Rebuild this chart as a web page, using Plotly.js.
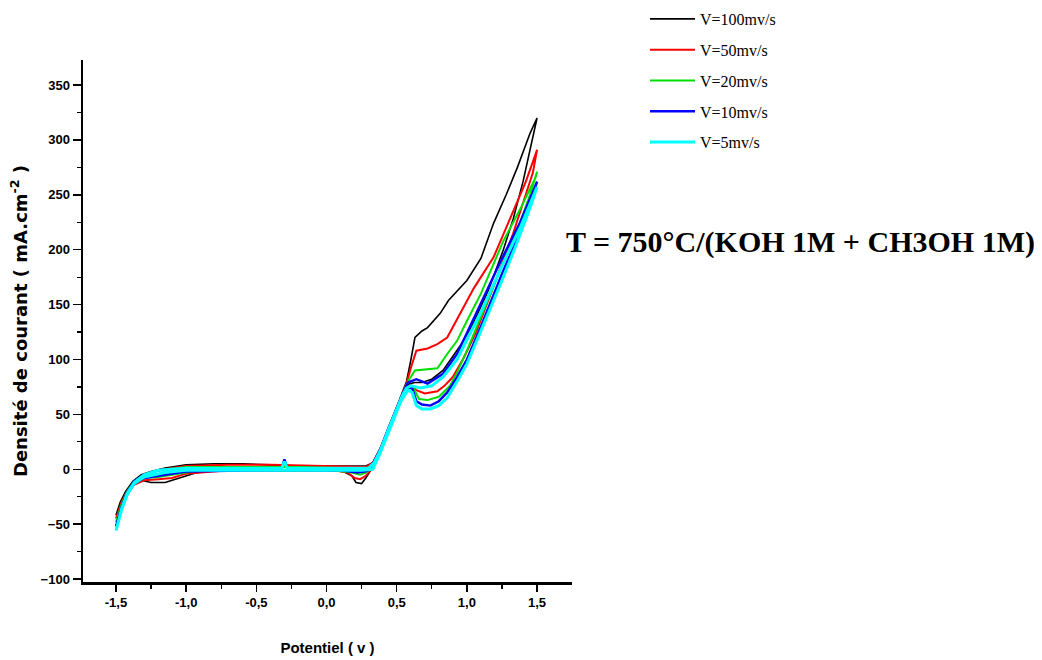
<!DOCTYPE html>
<html>
<head>
<meta charset="utf-8">
<script src="https://cdn.plot.ly/plotly-3.0.1.min.js"></script>
<style>html,body{margin:0;padding:0;background:#fff;}#chart{width:1042px;height:660px;}</style>
</head>
<body>
<div id="chart"></div>
<script>
// Series names
const seriesNames = ["V=100mv/s", "V=50mv/s", "V=20mv/s", "V=10mv/s", "V=5mv/s"];

// V = 100 mV/s (potential V, current density mA/cm2), forward then reverse scan
const v100 = [-1.5,-1.47,-1.43,-1.38,-1.32,-1.25,-1.15,-1.0,-0.8,-0.6,-0.4,-0.2,0.0,0.15,0.28,0.33,0.38,0.43,0.48,0.53,0.57,0.6,0.63,0.68,0.72,0.81,0.87,1.0,1.1,1.19,1.28,1.36,1.45,1.5,
              1.47,1.4,1.33,1.26,1.15,1.03,0.95,0.88,0.83,0.75,0.68,0.63,0.59,0.55,0.5,0.45,0.4,0.35,0.31,0.28,0.25,0.21,0.18,0.12,0.0,-0.3,-0.6,-0.9,-1.05,-1.15,-1.25,-1.32,-1.38,-1.43,-1.47,-1.5];
const j100 = [-42,-30,-20,-11,-5,-2,1,4,5,5,4,3,3,3,3,6,18,33,50,66,80,99,120,126,129,142,154,172,192,224,250,275,306,320,
              303,262,228,200,162,129,112,99,90,82,79,79,78,70,55,38,22,8,-2,-8,-13,-12,-6,-2,-1,-1,-1,-2,-8,-12,-12,-10,-15,-24,-33,-42];

// V = 50 mV/s
const v50 = [-1.5,-1.46,-1.42,-1.37,-1.3,-1.2,-1.0,-0.7,-0.4,-0.1,0.15,0.28,0.33,0.38,0.43,0.48,0.53,0.57,0.6,0.64,0.72,0.79,0.86,0.95,1.05,1.19,1.33,1.42,1.47,1.5,
             1.47,1.4,1.33,1.2,1.07,0.98,0.9,0.84,0.79,0.7,0.64,0.6,0.57,0.52,0.47,0.42,0.37,0.32,0.28,0.24,0.2,0.15,0.05,-0.3,-0.7,-1.0,-1.1,-1.2,-1.3,-1.37,-1.42,-1.46,-1.5];
const j50 = [-45,-30,-20,-11,-5,-1,3,4,4,3,2,2,6,18,34,50,66,78,92,108,110,114,120,142,165,193,235,262,280,291,
             270,243,215,170,126,102,84,76,71,69,72,77,74,62,46,30,14,0,-6,-9,-8,-3,-1,-1,-1,-4,-8,-9,-10,-14,-22,-32,-45];

// V = 20 mV/s
const v20 = [-1.5,-1.46,-1.42,-1.37,-1.3,-1.2,-1.0,-0.6,-0.2,0.15,0.3,0.34,0.39,0.44,0.49,0.54,0.58,0.63,0.7,0.79,0.86,0.93,1.0,1.1,1.26,1.38,1.49,1.5,
             1.45,1.35,1.25,1.1,1.0,0.93,0.88,0.8,0.72,0.66,0.61,0.58,0.53,0.48,0.43,0.38,0.33,0.28,0.24,0.18,0.05,-0.4,-0.9,-1.1,-1.2,-1.3,-1.37,-1.42,-1.46,-1.5];
const j20 = [-48,-32,-20,-11,-5,-1,2,2,2,1,1,7,20,36,52,68,80,90,91,92,105,117,135,160,208,237,266,271,
             250,215,185,138,108,88,76,66,63,64,76,75,64,48,32,16,2,-3,-5,-3,-1,-1,-1,-5,-7,-8,-13,-22,-33,-48];

// V = 10 mV/s
const v10 = [-1.5,-1.46,-1.42,-1.37,-1.3,-1.2,-1.0,-0.6,-0.32,-0.3,-0.28,0.0,0.3,0.34,0.39,0.44,0.49,0.54,0.58,0.64,0.72,0.83,0.93,1.0,1.1,1.25,1.38,1.5,
             1.45,1.35,1.25,1.1,1.0,0.93,0.86,0.8,0.74,0.68,0.64,0.61,0.58,0.53,0.48,0.43,0.38,0.33,0.28,0.22,0.1,-0.5,-1.0,-1.15,-1.3,-1.37,-1.42,-1.46,-1.5];
const j10 = [-52,-34,-21,-11,-5,-1,1,1,1,9,1,1,1,7,20,37,53,68,79,82,78,87,105,124,150,192,225,262,
             242,208,178,130,100,84,70,62,58,59,62,74,74,63,47,31,15,1,-2,-3,-1,-1,-2,-5,-8,-13,-23,-35,-52];

// V = 5 mV/s
const v5 = [-1.5,-1.46,-1.42,-1.37,-1.3,-1.2,-1.0,-0.6,-0.32,-0.3,-0.28,0.0,0.3,0.34,0.39,0.44,0.49,0.54,0.57,0.6,0.67,0.75,0.83,0.93,1.0,1.1,1.25,1.38,1.5,
            1.45,1.35,1.25,1.1,1.0,0.93,0.86,0.8,0.74,0.68,0.64,0.61,0.58,0.53,0.48,0.43,0.38,0.33,0.25,0.1,-0.5,-1.0,-1.15,-1.3,-1.37,-1.42,-1.46,-1.5];
const j5 = [-56,-36,-22,-12,-5,-1,1,1,1,7,1,1,1,6,19,36,52,67,74,76,74,76,84,100,118,143,185,220,257,
            238,204,172,126,96,80,65,58,55,55,58,70,72,62,46,30,14,0,-1,-1,-1,-1,-3,-7,-13,-23,-37,-56];

// Axis tick labels
const xTickVals = [-1.5, -1.0, -0.5, 0.0, 0.5, 1.0, 1.5];
const xTickText = ["-1,5", "-1,0", "-0,5", "0,0", "0,5", "1,0", "1,5"];
const yTickVals = [-100, -50, 0, 50, 100, 150, 200, 250, 300, 350];

const xs = [v100, v50, v20, v10, v5];
const ys = [j100, j50, j20, j10, j5];
const colors = ["#000000", "#ff0000", "#00e000", "#0000ff", "#00ffff"];
const widths = [1.6, 2, 2, 2.4, 3];

const traces = seriesNames.map((n, i) => ({
  x: xs[i], y: ys[i], name: n, type: "scatter", mode: "lines",
  legendgroup: "g" + i,
  line: {color: colors[i], width: widths[i]}
}));

const tickFont = {family: "Liberation Sans, Arial, sans-serif", size: 13, color: "#000", weight: "bold"};

const layout = {
  width: 1042, height: 660,
  paper_bgcolor: "#fff", plot_bgcolor: "#fff",
  margin: {l: 83, r: 470, t: 60, b: 78, autoexpand: false},
  showlegend: true,
  legend: {
    xref: "container", yref: "container",
    x: 645 / 1042, xanchor: "left", y: 1 - 2 / 660, yanchor: "top",
    font: {family: "Liberation Serif, Times New Roman, serif", size: 16, color: "#000"},
    itemwidth: 45,
    tracegroupgap: 7, bgcolor: "rgba(0,0,0,0)"
  },
  xaxis: {
    range: [-1.735, 1.749], showgrid: false, zeroline: false,
    showline: true, linecolor: "#000", linewidth: 2.5,
    ticks: "outside", ticklen: 7, tickwidth: 1.5, tickcolor: "#000",
    tickvals: xTickVals, ticktext: xTickText, tickfont: tickFont,
    minor: {dtick: 0.25, tick0: 0, ticks: "outside", ticklen: 4, tickwidth: 1.2, tickcolor: "#000", showgrid: false},
    title: {text: "Potentiel ( v )", font: {family: "Liberation Sans, Arial, sans-serif", size: 15, color: "#000", weight: "bold"}, standoff: 34}
  },
  yaxis: {
    range: [-102.7, 372.8], showgrid: false, zeroline: false,
    showline: true, linecolor: "#000", linewidth: 2.5,
    ticks: "outside", ticklen: 8, tickwidth: 1.5, tickcolor: "#000",
    tickvals: yTickVals, tickfont: tickFont,
    minor: {dtick: 25, tick0: 0, ticks: "outside", ticklen: 4, tickwidth: 1.2, tickcolor: "#000", showgrid: false},
    title: {text: "Densité de courant ( mA.cm<sup>-2</sup> )", font: {family: "DejaVu Sans, sans-serif", size: 18, color: "#000", weight: "bold"}, standoff: 9}
  },
  annotations: [{
    text: "T = 750°C/(KOH 1M + CH3OH 1M)",
    xref: "paper", yref: "paper", x: (800 - 83) / 489, y: (582 - 242) / 522, xanchor: "center", yanchor: "middle",
    showarrow: false,
    font: {family: "Liberation Serif, Times New Roman, serif", size: 30, color: "#000", weight: "bold"}
  }]
};

Plotly.newPlot("chart", traces, layout, {displayModeBar: false, staticPlot: true});
</script>
</body>
</html>
